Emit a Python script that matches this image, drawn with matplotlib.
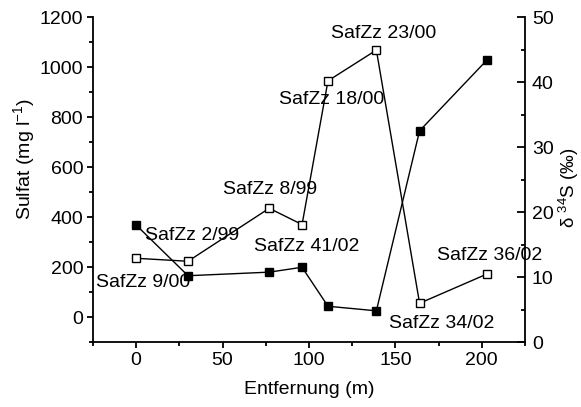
import matplotlib
matplotlib.use("Agg")
import matplotlib.pyplot as plt
from matplotlib.ticker import MultipleLocator

plt.rcParams['font.family'] = ['Liberation Sans', 'DejaVu Sans']
plt.rcParams['mathtext.fontset'] = 'custom'
plt.rcParams['mathtext.rm'] = 'Liberation Sans'
plt.rcParams['mathtext.it'] = 'Liberation Sans:italic'
plt.rcParams['mathtext.bf'] = 'Liberation Sans:bold'

# distance (m)
dist = [0, 30, 77, 96, 111, 139, 164, 203]
# sulfate (mg/l) - open squares, left axis
sulfat = [235, 223, 435, 370, 945, 1068, 55, 172]
# delta 34S (permil) - filled squares, right axis
d34s = [18.0, 10.2, 10.75, 11.5, 5.5, 4.8, 32.5, 43.4]

labels = ["SafZz 9/00", "SafZz 2/99", "SafZz 8/99", "SafZz 41/02",
          "SafZz 18/00", "SafZz 23/00", "SafZz 34/02", "SafZz 36/02"]
# label anchor positions in data coords (x, sulfate-axis y)
label_pos = [(4, 140), (32.4, 328), (77.5, 512), (98.8, 284),
             (113.3, 872), (143.4, 1136), (176.9, -24), (204.6, 248)]

fig = plt.figure(figsize=(5.81, 4.07), dpi=100)
ax = fig.add_axes([0.160, 0.1597, 0.7436, 0.7983])
ax2 = ax.twinx()

ax.plot(dist, sulfat, color='black', lw=1, marker='s', ms=5.5,
        mfc='white', mec='black', mew=1, zorder=3)
ax2.plot(dist, d34s, color='black', lw=1, marker='s', ms=5.5,
         mfc='black', mec='black', zorder=3)

ax.set_xlim(-25, 225)
ax.set_ylim(-100, 1200)
ax2.set_ylim(0, 50)

ax.xaxis.set_major_locator(MultipleLocator(50))
ax.xaxis.set_minor_locator(MultipleLocator(25))
ax.yaxis.set_major_locator(MultipleLocator(200))
ax.yaxis.set_minor_locator(MultipleLocator(100))
ax2.yaxis.set_major_locator(MultipleLocator(10))
ax2.yaxis.set_minor_locator(MultipleLocator(5))

for a in (ax, ax2):
    a.spines['top'].set_visible(False)
    for s in a.spines.values():
        s.set_linewidth(1.3)
ax.tick_params(which='major', direction='out', length=4.5, width=1.3,
               labelsize=14, pad=2.5)
ax.tick_params(which='minor', direction='out', length=3, width=1.3)
ax2.tick_params(which='major', direction='in', length=5.5, width=1.3,
                labelsize=14, pad=5)
ax2.tick_params(which='minor', direction='in', length=3, width=1.3)
ax2.spines['left'].set_visible(False)
ax2.spines['bottom'].set_visible(False)
ax.spines['right'].set_visible(False)

for (lx, ly), t in zip(label_pos, labels):
    ax.text(lx, ly, t, fontsize=14, ha='center', va='center', zorder=4)

ax.set_xlabel("Entfernung (m)", fontsize=14, labelpad=9)
ax.set_ylabel("Sulfat (mg l$^{-1}$)", fontsize=14, va='center', rotation=90)
ax.yaxis.set_label_coords(-0.16, 0.563)
ax2.set_ylabel("δ $^{34}$S (‰)", fontsize=13.5, va='center', rotation=90)
ax2.yaxis.set_label_coords(1.101, 0.474)

fig.savefig("out.png", dpi=100)
